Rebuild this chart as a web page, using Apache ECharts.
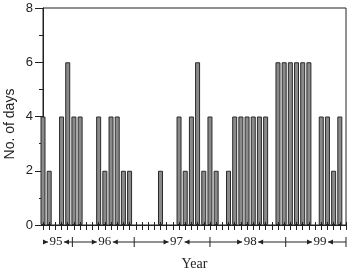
<!DOCTYPE html>
<html>
<head>
<meta charset="utf-8">
<script src="https://cdn.jsdelivr.net/npm/echarts@6/dist/echarts.min.js"></script>
<style>
html, body { margin: 0; padding: 0; background: #fff; }
#chart { width: 351px; height: 270px; }
</style>
</head>
<body>
<div id="chart"></div>
<script>
// days per slot ('-' = no bar)
const days = [4, 2, '-', 4, 6, 4, 4, '-', '-', 4, 2, 4, 4, 2, 2, '-', '-', '-', '-', 2,
  '-', '-', 4, 2, 4, 6, 2, 4, 2, '-', 2, 4, 4, 4, 4, 4, 4, '-', 6, 6,
  6, 6, 6, 6, '-', 4, 4, 2, 4, '-'];
const slots = days.map((_, i) => String(i + 1));
const yTicks = [0, 2, 4, 6, 8];
const years = ['95', '96', '97', '98', '99'];
// year segments along the slot axis
const yearEdges = [0, 4.75, 14.75, 27, 39.25, 49];
const yearLabelAt = [2.1, 10, 21.6, 33.5, 44.8];

const chart = echarts.init(document.getElementById('chart'));

chart.setOption({
  animation: false,
  grid: {
    left: 43,
    right: 5,
    top: 8,
    bottom: 45,
    outerBoundsMode: 'none',
    containLabel: false,
    show: true,
    borderColor: '#222',
    borderWidth: 1
  },
  xAxis: [
    {
      type: 'category',
      data: slots,
      boundaryGap: false,
      name: 'Year',
      nameLocation: 'middle',
      nameGap: 32,
      nameTextStyle: { fontFamily: 'Liberation Serif', fontSize: 14, color: '#222' },
      axisLine: { lineStyle: { color: '#222' } },
      axisTick: { show: true, interval: 0, length: 5, lineStyle: { color: '#222' } },
      axisLabel: { show: false },
      splitLine: { show: false }
    },
    {
      type: 'category',
      data: slots,
      boundaryGap: false,
      position: 'bottom',
      z: 5,
      axisLine: { show: false },
      axisTick: { show: true, inside: true, interval: 0, length: 3, lineStyle: { color: '#222' } },
      axisLabel: { show: false },
      splitLine: { show: false }
    }
  ],
  yAxis: {
    type: 'value',
    min: yTicks[0],
    max: yTicks[yTicks.length - 1],
    interval: 2,
    axisLine: { show: true, lineStyle: { color: '#222' } },
    axisTick: { show: true, length: 8, lineStyle: { color: '#222' } },
    minorTick: { show: true, splitNumber: 2, length: 4, lineStyle: { color: '#222' } },
    axisLabel: { margin: 10, fontFamily: 'Liberation Sans', fontSize: 13, color: '#222' },
    splitLine: { show: false }
  },
  series: [
    {
      type: 'bar',
      data: days,
      barWidth: 5,
      clip: true,
      itemStyle: { color: '#8a8a8a', borderColor: '#2a2a2a', borderWidth: 1 }
    }
  ]
});

function idxToX(i) {
  const a = chart.convertToPixel({ xAxisIndex: 0 }, slots[0]);
  const b = chart.convertToPixel({ xAxisIndex: 0 }, slots[slots.length - 1]);
  return a + (b - a) * i / (slots.length - 1);
}

function drawYears() {
  const y = 242;
  const els = [];
  const line = (x1, y1, x2, y2) => ({
    type: 'line',
    shape: { x1: x1, y1: y1, x2: x2, y2: y2 },
    style: { stroke: '#222', lineWidth: 1 }
  });
  const head = (tip, dir) => ({
    type: 'polygon',
    shape: { points: [[tip, y], [tip - dir * 5, y - 2.5], [tip - dir * 5, y + 2.5]] },
    style: { fill: '#222' }
  });
  years.forEach((yr, k) => {
    const left = idxToX(yearEdges[k]);
    const right = idxToX(yearEdges[k + 1]);
    const c = idxToX(yearLabelAt[k]);
    els.push({
      type: 'text',
      x: c,
      y: y,
      style: {
        text: yr,
        fontFamily: 'Liberation Serif',
        fontSize: 13,
        fill: '#222',
        align: 'center',
        verticalAlign: 'middle'
      }
    });
    els.push(line(left, y, c - 8, y), head(c - 8, 1));
    els.push(line(c + 8, y, right, y), head(c + 8, -1));
    els.push(line(right, y - 5, right, y + 5));
  });
  els.push({
    type: 'text',
    x: 10,
    y: 124,
    rotation: Math.PI / 2,
    style: {
      text: 'No. of days',
      fontFamily: 'Liberation Sans',
      fontSize: 14,
      fill: '#222',
      align: 'center',
      verticalAlign: 'middle'
    }
  });
  chart.setOption({ graphic: els });
}

drawYears();
</script>
</body>
</html>
